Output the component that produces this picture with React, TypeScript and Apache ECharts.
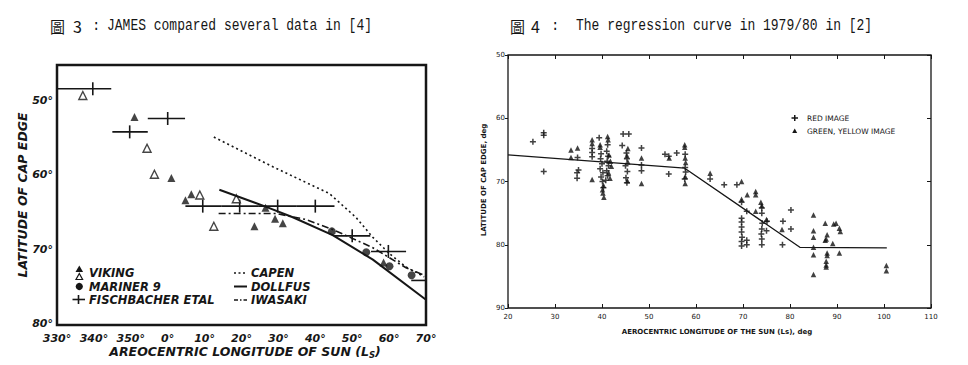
import React, { useEffect, useRef } from "react";
import * as echarts from "echarts";

// ---------- Figure 3 data (Ls in degrees, values >360 wrap past 0°) ----------
const fig3XTicks = [330, 340, 350, 360, 370, 380, 390, 400, 410, 420, 430];
const vikingFilled = [
  [351.0, 52.0], [361.0, 60.2], [364.8, 63.2], [366.4, 62.4], [386.5, 64.2],
  [383.5, 66.7], [389.1, 65.7], [391.2, 66.3], [418.5, 71.6],
];
const vikingOpen = [
  [337.0, 49.1], [354.4, 56.2], [356.4, 59.7], [368.7, 62.5], [378.6, 63.0], [372.5, 66.7],
];
const mariner9 = [[404.5, 67.4], [413.8, 70.2], [420.1, 72.1], [426.1, 73.3]];
// [centre Ls, latitude, bar from, bar to, show tick]
const fischbacher = [
  [339.7, 48.2, 330, 344.7, 1], [349.7, 54.0, 345, 354.6, 1], [360, 52.2, 354.6, 364.7, 1],
  [369.5, 64, 364.8, 374.5, 1], [379.5, 64, 374.5, 384.5, 1], [389.8, 64, 384.5, 395, 1],
  [400, 64, 395, 405.2, 1], [410, 68, 405.1, 414.9, 1], [419.8, 70.1, 415.1, 424.6, 1],
  [428, 74, 426, 430, 0],
];
const capen = [
  [372.5, 54.7], [388.5, 58.7], [403.8, 62.3], [406.5, 63.5], [411.0, 65.5], [415.6, 68.2],
  [420.1, 70.4], [424.6, 72.2], [429.5, 73.5],
];
const dollfus = [[374.0, 61.8], [386.7, 64.1], [393.9, 65.5], [404.7, 67.9], [415.6, 71.2], [430, 76.6]];
const iwasaki = [
  [373.8, 65.0], [389.5, 65.0], [397.5, 65.8], [405.0, 67.2], [415.6, 69.6], [424.6, 72.3], [430, 73.4],
];

// ---------- Figure 4 data ----------
const fig4XTicks = [20, 30, 40, 50, 60, 70, 80, 90, 100, 110];
const redImage = [
  [25.3, 63.7], [27.6, 62.3], [27.6, 62.7], [27.6, 68.4], [34.8, 66.2], [35.0, 68.2], [34.7, 68.6],
  [34.7, 69.5], [37.9, 64.8], [37.9, 65.4], [37.9, 66.1], [39.4, 63.1], [39.8, 65.6], [39.7, 66.4],
  [40.0, 67.2], [39.6, 68.0], [40.2, 68.6], [39.8, 69.3], [40.1, 70.0], [40.3, 71.0], [41.2, 64.2],
  [41.0, 65.2], [41.3, 66.0], [41.1, 66.8], [41.4, 67.5], [41.0, 68.3], [41.2, 69.1], [40.8, 69.8],
  [44.5, 62.5], [45.7, 62.5], [44.3, 64.3], [45.2, 65.5], [45.3, 66.4], [45.0, 67.5], [45.4, 68.4],
  [45.1, 69.4], [45.3, 70.2], [48.4, 64.7], [48.4, 67.4], [48.4, 68.3], [53.4, 65.7], [54.2, 66.0],
  [55.9, 65.5], [54.2, 68.8], [57.7, 65.7], [57.7, 67.8], [57.8, 68.5], [57.6, 69.6], [63.0, 69.6],
  [66.0, 70.5], [68.7, 70.5], [69.7, 73.3], [69.7, 75.8], [69.7, 76.4], [69.7, 77.2], [69.7, 78.0],
  [69.8, 78.8], [69.7, 79.5], [69.7, 80.2], [70.8, 74.7], [70.8, 79.3], [70.8, 80.0], [74.0, 74.2],
  [74.0, 75.0], [74.1, 76.6], [74.0, 77.5], [73.9, 78.3], [74.0, 79.1], [74.0, 80.0], [75.1, 76.3],
  [75.0, 77.8], [78.5, 76.3], [80.2, 74.5], [80.2, 77.5], [78.4, 80.0],
];
const greenYellowImage = [
  [33.4, 65.0], [33.4, 66.2], [34.8, 64.7], [37.9, 63.4], [37.9, 64.0], [37.9, 69.7], [39.6, 64.2],
  [39.6, 64.6], [40.3, 70.6], [40.1, 71.3], [40.2, 71.8], [40.4, 72.5], [41.2, 62.9], [41.3, 63.4],
  [41.5, 65.8], [41.8, 66.8], [42.0, 67.6], [41.4, 68.6], [41.7, 69.5], [45.5, 64.8], [45.3, 65.9],
  [45.5, 66.9], [45.4, 69.9], [48.4, 66.3], [48.4, 70.3], [54.3, 66.3], [57.6, 64.2], [57.6, 64.6],
  [57.7, 66.3], [57.8, 67.0], [57.7, 69.2], [57.7, 70.3], [63.0, 68.7], [69.7, 70.0], [69.7, 72.8],
  [70.9, 72.1], [72.7, 71.6], [72.7, 72.1], [72.7, 74.7], [73.8, 73.3], [74.0, 73.8], [75.0, 76.0],
  [78.3, 77.6], [85.0, 75.3], [85.0, 77.8], [85.0, 78.8], [85.0, 80.4], [85.0, 81.6], [85.0, 84.7],
  [87.5, 76.6], [87.9, 78.4], [87.7, 79.1], [87.5, 79.3], [87.9, 81.3], [87.9, 81.7], [87.7, 82.6],
  [87.7, 83.2], [87.7, 83.5], [89.3, 76.7], [89.8, 76.6], [89.1, 79.8], [90.5, 77.4], [90.7, 77.9],
  [90.5, 81.3], [100.5, 83.3], [100.5, 84.1],
];
const regression = [[20, 65.8], [57.6, 67.9], [82.1, 80.4], [100.6, 80.5]];

const PLUS = "path://M3,0h2v3h3v2h-3v3h-2v-3h-3v-2h3z";
const INK = "#161616";
const LABEL_FONT = "'DejaVu Sans', sans-serif";
const TITLE_FONT = "'Liberation Mono', monospace";
const CJK = "'Noto Sans CJK TC', sans-serif";

export default function App() {
  const ref = useRef<HTMLDivElement>(null);
  useEffect(() => {
    if (!ref.current) return;
    const chart = echarts.init(ref.current, undefined, { renderer: "svg" });
    const boldItal = { fontFamily: LABEL_FONT, fontWeight: "bold", fontStyle: "italic", fontSize: 11.5, fill: INK };
    const small = { fontFamily: LABEL_FONT, fontSize: 7, fill: INK };
    const option: any = {
      animation: false,
      backgroundColor: "#ffffff",
      grid: [
        { left: 57, top: 65, width: 369, height: 260, show: true, borderColor: INK, borderWidth: 2.5 },
        { left: 508, top: 55, width: 423, height: 253, show: true, borderColor: INK, borderWidth: 1.3 },
      ],
      xAxis: [
        {
          gridIndex: 0, type: "value", min: fig3XTicks[0], max: fig3XTicks[fig3XTicks.length - 1], interval: 10,
          axisLine: { show: false }, axisTick: { show: false }, splitLine: { show: false },
          axisLabel: {
            formatter: (v: number) => (v % 360) + "°", margin: 8, color: INK,
            fontFamily: LABEL_FONT, fontWeight: "bold", fontStyle: "italic", fontSize: 11,
          },
        },
        {
          gridIndex: 1, type: "value", position: "bottom", min: fig4XTicks[0], max: fig4XTicks[fig4XTicks.length - 1], interval: 10,
          axisLine: { show: false }, splitLine: { show: false },
          axisTick: { show: true, inside: true, length: 4, lineStyle: { color: INK, width: 1 } },
          axisLabel: { fontFamily: LABEL_FONT, fontSize: 7, color: INK, margin: 5 },
        },
        {
          gridIndex: 1, type: "value", position: "top", min: fig4XTicks[0], max: fig4XTicks[fig4XTicks.length - 1], interval: 10,
          axisLine: { show: false }, splitLine: { show: false },
          axisTick: { show: true, inside: true, length: 4, lineStyle: { color: INK, width: 1 } },
          axisLabel: { show: false },
        },
      ],
      yAxis: [
        {
          gridIndex: 0, type: "value", inverse: true, min: 45, max: 80, interval: 5,
          axisLine: { show: false }, axisTick: { show: false }, splitLine: { show: false },
          axisLabel: {
            formatter: (v: number) => (v % 10 === 0 ? v + "°" : ""), margin: 4, color: INK,
            fontFamily: LABEL_FONT, fontWeight: "bold", fontStyle: "italic", fontSize: 11,
            verticalAlign: "bottom", padding: [0, 0, -4, 0],
          },
        },
        {
          gridIndex: 1, type: "value", inverse: true, position: "left", min: 50, max: 90, interval: 10,
          axisLine: { show: false }, splitLine: { show: false },
          axisTick: { show: true, inside: false, length: 3, lineStyle: { color: INK, width: 1 } },
          axisLabel: { fontFamily: LABEL_FONT, fontSize: 7, color: INK, margin: 3 },
        },
        {
          gridIndex: 1, type: "value", inverse: true, position: "right", min: 50, max: 90, interval: 10,
          axisLine: { show: false }, splitLine: { show: false },
          axisTick: { show: true, inside: true, length: 4, lineStyle: { color: INK, width: 1 } },
          axisLabel: { show: false },
        },
      ],
      series: [
        {
          name: "CAPEN", type: "line", xAxisIndex: 0, yAxisIndex: 0, data: capen, symbol: "none",
          lineStyle: { color: INK, width: 1.6, type: [2, 3] },
        },
        {
          name: "DOLLFUS", type: "line", xAxisIndex: 0, yAxisIndex: 0, data: dollfus, symbol: "none",
          lineStyle: { color: INK, width: 2 },
        },
        {
          name: "IWASAKI", type: "line", xAxisIndex: 0, yAxisIndex: 0, data: iwasaki, symbol: "none",
          lineStyle: { color: INK, width: 1.6, type: [7, 3, 2, 3] },
        },
        {
          name: "FISCHBACHER ETAL", type: "custom", xAxisIndex: 0, yAxisIndex: 0, data: fischbacher, clip: true,
          encode: { x: [0, 2, 3], y: 1 },
          renderItem: (_p: any, api: any) => {
            const c = api.coord([api.value(0), api.value(1)]);
            const l = api.coord([api.value(2), api.value(1)]);
            const r = api.coord([api.value(3), api.value(1)]);
            const st = { stroke: INK, lineWidth: 1.6 };
            const children: any[] = [
              { type: "line", shape: { x1: l[0], y1: l[1], x2: r[0], y2: r[1] }, style: st },
            ];
            if (api.value(4)) {
              children.push({ type: "line", shape: { x1: c[0], y1: c[1] - 6.5, x2: c[0], y2: c[1] + 6.5 }, style: st });
            }
            return { type: "group", children };
          },
        },
        {
          name: "VIKING", type: "scatter", xAxisIndex: 0, yAxisIndex: 0, data: vikingFilled,
          symbol: "triangle", symbolSize: 8, itemStyle: { color: INK },
        },
        {
          name: "VIKING (open)", type: "scatter", xAxisIndex: 0, yAxisIndex: 0, data: vikingOpen,
          symbol: "triangle", symbolSize: 8, itemStyle: { color: "#ffffff", borderColor: INK, borderWidth: 1.4 },
        },
        {
          name: "MARINER 9", type: "scatter", xAxisIndex: 0, yAxisIndex: 0, data: mariner9,
          symbol: "circle", symbolSize: 8, itemStyle: { color: INK },
        },
        {
          name: "Regression", type: "line", xAxisIndex: 1, yAxisIndex: 1, data: regression, symbol: "none",
          lineStyle: { color: INK, width: 1.3 },
        },
        {
          name: "RED IMAGE", type: "scatter", xAxisIndex: 1, yAxisIndex: 1, data: redImage,
          symbol: PLUS, symbolSize: 6, itemStyle: { color: "#111" },
        },
        {
          name: "GREEN, YELLOW IMAGE", type: "scatter", xAxisIndex: 1, yAxisIndex: 1, data: greenYellowImage,
          symbol: "triangle", symbolSize: 5.5, itemStyle: { color: "#111" },
        },
      ],
      graphic: [
        // Titles
        { type: "text", x: 50, y: 26, style: { text: "圖", font: `15px ${CJK}`, fill: INK, verticalAlign: "middle" } },
        { type: "text", x: 73, y: 26, style: { text: "3", font: `16px ${CJK}`, fill: INK, verticalAlign: "middle" } },
        { type: "text", x: 92, y: 26, style: { text: ":", font: `14px ${TITLE_FONT}`, fill: INK, verticalAlign: "middle" } },
        {
          type: "text", x: 107, y: 26, scaleY: 1.2,
          style: { text: "JAMES compared several data in [4]", font: `13px ${TITLE_FONT}`, fill: INK, verticalAlign: "middle" },
        },
        { type: "text", x: 510, y: 26, style: { text: "圖", font: `15px ${CJK}`, fill: INK, verticalAlign: "middle" } },
        { type: "text", x: 531, y: 26, style: { text: "4", font: `16px ${CJK}`, fill: INK, verticalAlign: "middle" } },
        { type: "text", x: 551, y: 26, style: { text: ":", font: `14px ${TITLE_FONT}`, fill: INK, verticalAlign: "middle" } },
        {
          type: "text", x: 576, y: 26, scaleY: 1.2,
          style: { text: "The regression curve in 1979/80 in [2]", font: `13px ${TITLE_FONT}`, fill: INK, verticalAlign: "middle" },
        },
        // Fig 3 axis names
        {
          type: "text", x: 245, y: 351,
          style: {
            text: "{a|AREOCENTRIC LONGITUDE OF SUN (L}{s|S}{a|)}", align: "center", verticalAlign: "middle",
            rich: {
              a: { ...boldItal, fontSize: 12.5, color: INK },
              s: { ...boldItal, fontSize: 8.5, color: INK, padding: [7, 0, 0, 0] },
            },
          },
        },
        {
          type: "text", x: 22, y: 195, rotation: Math.PI / 2,
          style: { text: "LATITUDE OF CAP EDGE", ...boldItal, fontSize: 12.5, align: "center", verticalAlign: "middle" },
        },
        // Fig 3 legend
        { type: "polygon", shape: { points: [[79.3, 265.5], [75.5, 272], [83.1, 272]] }, style: { fill: INK } },
        { type: "polygon", shape: { points: [[79.3, 273.5], [76, 279.5], [82.6, 279.5]] }, style: { fill: "#fff", stroke: INK, lineWidth: 1.2 } },
        { type: "circle", shape: { cx: 79.3, cy: 286.5, r: 3.6 }, style: { fill: INK } },
        { type: "line", shape: { x1: 72.5, y1: 299.5, x2: 85, y2: 299.5 }, style: { stroke: INK, lineWidth: 1.6 } },
        { type: "line", shape: { x1: 78.5, y1: 295, x2: 78.5, y2: 304 }, style: { stroke: INK, lineWidth: 1.6 } },
        { type: "text", x: 89, y: 273, style: { text: "VIKING", ...boldItal, verticalAlign: "middle" } },
        { type: "text", x: 89, y: 286.5, style: { text: "MARINER 9", ...boldItal, verticalAlign: "middle" } },
        { type: "text", x: 89, y: 300, style: { text: "FISCHBACHER ETAL", ...boldItal, verticalAlign: "middle" } },
        { type: "line", shape: { x1: 234, y1: 273, x2: 247, y2: 273 }, style: { stroke: INK, lineWidth: 1.6, lineDash: [2, 2.5] } },
        { type: "line", shape: { x1: 234, y1: 286.5, x2: 247, y2: 286.5 }, style: { stroke: INK, lineWidth: 2 } },
        { type: "line", shape: { x1: 234, y1: 300, x2: 247, y2: 300 }, style: { stroke: INK, lineWidth: 1.6, lineDash: [4, 2, 1.5, 2] } },
        { type: "text", x: 251, y: 273, style: { text: "CAPEN", ...boldItal, verticalAlign: "middle" } },
        { type: "text", x: 251, y: 286.5, style: { text: "DOLLFUS", ...boldItal, verticalAlign: "middle" } },
        { type: "text", x: 251, y: 300, style: { text: "IWASAKI", ...boldItal, verticalAlign: "middle" } },
        // Fig 4 axis names
        {
          type: "text", x: 717, y: 332,
          style: { text: "AEROCENTRIC LONGITUDE OF THE SUN (Ls), deg", ...small, fontWeight: "bold", align: "center", verticalAlign: "middle" },
        },
        {
          type: "text", x: 484, y: 180, rotation: Math.PI / 2,
          style: { text: "LATITUDE OF CAP EDGE, deg", ...small, fontWeight: "bold", align: "center", verticalAlign: "middle" },
        },
        // Fig 4 legend
        { type: "polygon", shape: { points: [[794, 115], [795.5, 115], [795.5, 117.3], [798, 117.3], [798, 118.7], [795.5, 118.7], [795.5, 121], [794, 121], [794, 118.7], [791.5, 118.7], [791.5, 117.3], [794, 117.3]] }, style: { fill: INK } },
        { type: "polygon", shape: { points: [[794.7, 128.5], [792.2, 133], [797.2, 133]] }, style: { fill: INK } },
        { type: "text", x: 807, y: 118.5, style: { text: "RED IMAGE", ...small, fontSize: 7.5, verticalAlign: "middle" } },
        { type: "text", x: 807, y: 131, style: { text: "GREEN, YELLOW IMAGE", ...small, fontSize: 7.5, verticalAlign: "middle" } },
      ],
    };
    chart.setOption(option);
    return () => chart.dispose();
  }, []);
  return <div ref={ref} style={{ position: "absolute", left: 0, top: 0, width: 968, height: 365 }} />;
}
